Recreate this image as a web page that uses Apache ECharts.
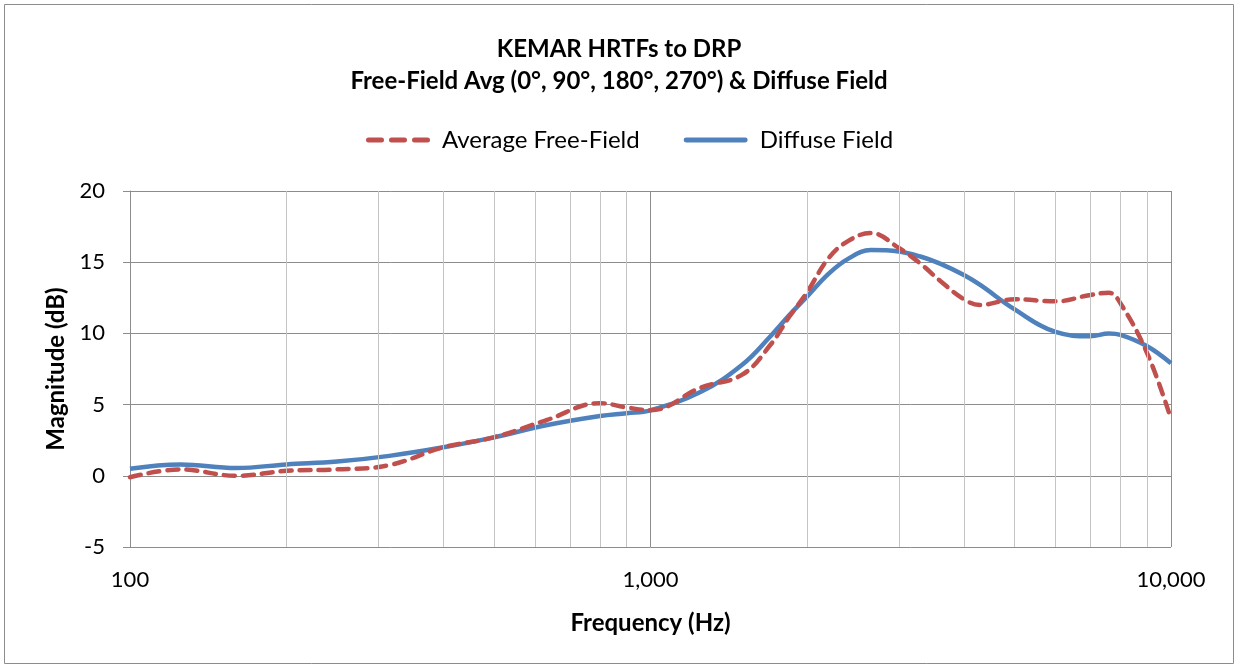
<!DOCTYPE html>
<html>
<head>
<meta charset="utf-8">
<script src="https://cdn.jsdelivr.net/npm/echarts@6/dist/echarts.min.js"></script>
<style>
  html, body { margin: 0; padding: 0; background: #fff; }
  #main { width: 1238px; height: 669px; }
</style>
</head>
<body>
<div id="main"></div>
<script>
// frequencies (Hz)
const freqs = [100, 125, 160, 200, 250, 315, 400, 500, 630, 800, 900, 1000, 1250, 1500, 1700, 1850,
  2000, 2200, 2400, 2650, 3000, 3300, 3600, 4000, 4300, 5000, 6000, 7000, 7600, 8000, 9000, 10000];
// magnitudes (dB)
const freeField = [-0.1, 0.45, 0.0, 0.35, 0.45, 0.75, 2.0, 2.7, 3.9, 5.1, 4.8, 4.6, 6.2, 7.1, 9.2, 11.2,
  12.9, 15.3, 16.5, 17.05, 16.0, 14.9, 13.7, 12.4, 12.0, 12.4, 12.25, 12.7, 12.85, 12.1, 8.6, 4.0];
const diffuse = [0.5, 0.8, 0.55, 0.8, 1.0, 1.4, 2.0, 2.7, 3.55, 4.2, 4.4, 4.6, 5.9, 7.8, 9.8, 11.3,
  12.6, 14.2, 15.25, 15.85, 15.75, 15.4, 14.9, 14.1, 13.4, 11.7, 10.1, 9.8, 10.0, 9.9, 9.1, 7.9];
// minor vertical grid lines of the log axis
const minorTicks = [200, 300, 400, 500, 600, 700, 800, 900, 2000, 3000, 4000, 5000, 6000, 7000, 8000, 9000];

const font = "Lato, 'Open Sans', sans-serif";
const red = "#C0504D";
const blue = "#4F81BD";
const pair = (ys) => freqs.map((f, i) => [f, ys[i]]);

let chartDom = document.getElementById("main");
let myChart = echarts.init(chartDom);
let option = {
  animation: false,
  textStyle: { fontFamily: font },
  graphic: [
    {
      // outer chart border
      type: "rect",
      shape: { x: 4.5, y: 4.5, width: 1229, height: 659 },
      style: { fill: "none", stroke: "#8c8c8c", lineWidth: 1 },
      silent: true
    }
  ],
  title: {
    text: "KEMAR HRTFs to DRP\nFree-Field Avg (0°, 90°, 180°, 270°) & Diffuse Field",
    left: "center",
    top: 28,
    textStyle: { fontFamily: font, fontSize: 24, fontWeight: "bold", color: "#000", lineHeight: 32 }
  },
  legend: {
    left: 361,
    top: 123,
    itemWidth: 64,
    itemHeight: 5,
    itemGap: 44,
    textStyle: { fontFamily: font, fontSize: 24, color: "#000", padding: [0, 0, 0, 7] },
    data: [
      {
        name: "Average Free-Field",
        icon: "path://M2.5,0h13a2.5,2.5 0 0 1 0,5h-13a2.5,2.5 0 0 1 0,-5z M25.5,0h13a2.5,2.5 0 0 1 0,5h-13a2.5,2.5 0 0 1 0,-5z M48.5,0h13a2.5,2.5 0 0 1 0,5h-13a2.5,2.5 0 0 1 0,-5z"
      },
      {
        name: "Diffuse Field",
        icon: "path://M2.5,0h61a2.5,2.5 0 0 1 0,5h-61a2.5,2.5 0 0 1 0,-5z"
      }
    ]
  },
  grid: { left: 130, right: 67, top: 191, bottom: 122 },
  xAxis: {
    type: "log",
    logBase: 10,
    min: 100,
    max: 10000,
    name: "Frequency (Hz)",
    nameLocation: "middle",
    nameGap: 64,
    nameTextStyle: { fontFamily: font, fontSize: 24, fontWeight: "bold", color: "#000" },
    axisLine: { show: true, lineStyle: { color: "#8c8c8c", width: 1 } },
    axisTick: { show: true, length: 6, lineStyle: { color: "#8c8c8c" } },
    axisLabel: {
      fontFamily: font, fontSize: 22, color: "#000", margin: 22,
      formatter: (v) => Math.round(v).toString().replace(/\B(?=(\d{3})+(?!\d))/g, ",")
    },
    splitLine: { show: true, lineStyle: { color: "#8c8c8c", width: 1 } }
  },
  yAxis: {
    type: "value",
    min: -5,
    max: 20,
    interval: 5,
    name: "Magnitude (dB)",
    nameLocation: "middle",
    nameGap: 62,
    nameTextStyle: { fontFamily: font, fontSize: 24, fontWeight: "bold", color: "#000" },
    axisLine: { show: true, lineStyle: { color: "#8c8c8c", width: 1 } },
    axisTick: { show: true, length: 7, lineStyle: { color: "#8c8c8c" } },
    axisLabel: { fontFamily: font, fontSize: 22, color: "#000", margin: 25 },
    splitLine: { show: true, lineStyle: { color: "#8c8c8c", width: 1 } }
  },
  series: [
    {
      // helper series carrying the minor grid lines
      name: "minor",
      type: "line",
      data: [],
      z: 1,
      silent: true,
      markLine: {
        silent: true,
        symbol: ["none", "none"],
        label: { show: false },
        lineStyle: { color: "#c4c4c4", type: "solid", width: 1 },
        data: minorTicks.map((f) => ({ xAxis: f }))
      }
    },
    {
      name: "Average Free-Field",
      type: "line",
      data: pair(freeField),
      symbol: "none",
      smooth: 0.4,
      z: 4,
      lineStyle: { color: red, width: 4.5, type: [11, 8], cap: "round" },
      itemStyle: { color: red }
    },
    {
      name: "Diffuse Field",
      type: "line",
      data: pair(diffuse),
      symbol: "none",
      smooth: 0.4,
      z: 3,
      lineStyle: { color: blue, width: 4.5 },
      itemStyle: { color: blue }
    }
  ]
};
myChart.setOption(option);
</script>
</body>
</html>
